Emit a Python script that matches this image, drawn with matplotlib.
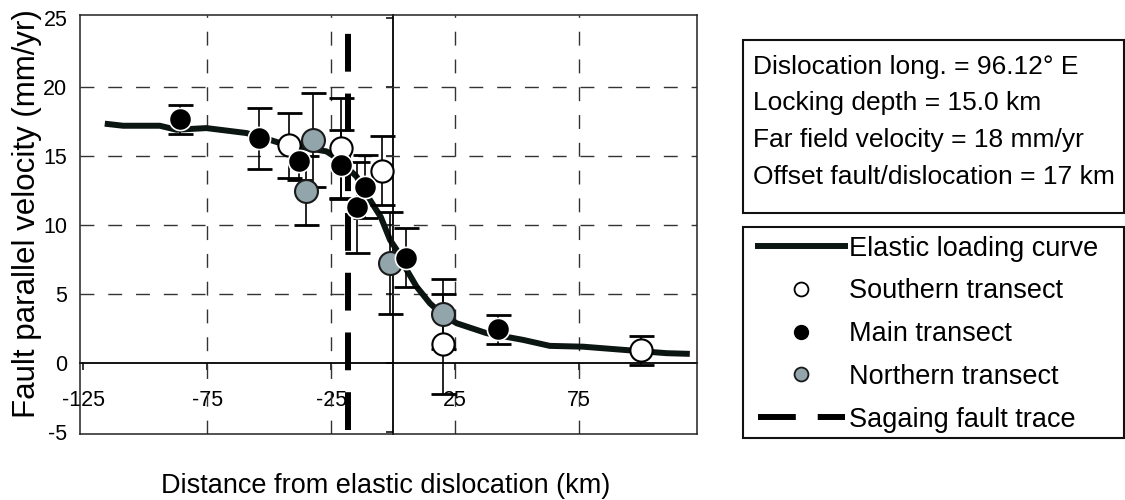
import matplotlib
matplotlib.use("Agg")
import matplotlib.pyplot as plt
from matplotlib.lines import Line2D
from matplotlib.patches import Rectangle

plt.rcParams['font.family'] = ['Liberation Sans', 'DejaVu Sans']
plt.rcParams['axes.unicode_minus'] = False

# elastic loading curve
curve_x = [-116.4, -109.0, -94.2, -87.5, -75.4, -59.2, -49.8, -45.8, -26.9, -22.8,
           -14.8, -9.4, -5.0, -1.3, 1.4, 5.0, 9.4, 14.8, 20.0, 25.6, 37.7, 52.5,
           63.2, 76.7, 90.1, 110.3, 119.7]
curve_y = [17.37, 17.22, 17.22, 16.93, 17.05, 16.69, 16.2, 15.97, 15.36, 14.88,
           13.54, 11.85, 10.6, 8.95, 8.22, 6.9, 5.56, 4.35, 3.5, 2.9, 2.18, 1.69,
           1.26, 1.2, 1.01, 0.73, 0.68]

# GPS transects
main_x = [-86.1, -54.2, -37.9, -21.1, -14.5, -11.4, 5.1, 42.4]
main_y = [17.7, 16.3, 14.65, 14.4, 11.3, 12.8, 7.65, 2.45]
main_err = [1.05, 2.2, 1.35, 2.5, 3.3, 2.3, 2.15, 1.05]

south_x = [-42.0, -21.1, -4.7, 20.2, 100.2]
south_y = [15.8, 15.6, 13.95, 1.4, 0.95]
south_err = [2.35, 3.65, 2.5, 3.6, 1.05]

north_x = [-35.2, -32.3, -1.3, 19.9]
north_y = [12.5, 16.2, 7.3, 3.55]
north_err = [2.5, 3.4, 3.7, 2.55]

fault_x = -18.4

x_ticks = [-125, -75, -25, 25, 75, 125]
y_ticks = [-5, 0, 5, 10, 15, 20, 25]
x_grid = [-75, -25, 25, 75]
y_grid = [5, 10, 15, 20]

info_lines = ["Dislocation long. = 96.12\u00b0 E",
              "Locking depth = 15.0 km",
              "Far field velocity = 18 mm/yr",
              "Offset fault/dislocation = 17 km"]
legend_labels = ["Elastic loading curve", "Southern transect", "Main transect",
                 "Northern transect", "Sagaing fault trace"]

W, H = 1125, 500
fig = plt.figure(figsize=(W / 100, H / 100), dpi=100)
ax = fig.add_axes([80 / W, 1 - 434 / H, 617 / W, 419 / H])
xmin, xmax = -126.4, 122.6
ymin, ymax = -5.13, 25.25
ax.set_xlim(xmin, xmax)
ax.set_ylim(ymin, ymax)

for s in ax.spines.values():
    s.set_linewidth(1.1)
    s.set_color('#222222')

# grid
ax.xaxis.remove_overlapping_locs = False
ax.yaxis.remove_overlapping_locs = False
ax.set_xticks([])
ax.set_yticks(y_ticks)
ax.set_xticks(x_grid, minor=True)
ax.set_yticks(y_grid, minor=True)
ax.tick_params(which='both', length=0)
ax.tick_params(axis='y', labelsize=15.5, pad=9)
ax.grid(which='minor', color='#333333', linewidth=1.0, linestyle=(0, (10, 10)))

# axes crossing at zero
xs = ax.secondary_xaxis((0 - ymin) / (ymax - ymin))
xs.set_xticks(x_ticks)
xs.tick_params(length=5, width=1.1, labelsize=15.5, pad=14, direction='out')
xs.spines['bottom'].set_linewidth(1.3)

ys = ax.secondary_yaxis((0 - xmin) / (xmax - xmin))
ys.set_alignment('left')
ys.set_yticks(y_ticks)
ys.set_yticklabels([])
ys.tick_params(length=5, width=1.1)
ys.spines['left'].set_linewidth(1.3)

# fault trace
ax.axvline(fault_x, ymin=0, ymax=(434 - 32) / 419, color='black', lw=4.3,
           linestyle=(9.33, (6.33, 3.67)), zorder=2)

# elastic curve
ax.plot(curve_x, curve_y, color='#0b1512', lw=4.3, zorder=3,
        solid_capstyle='butt', solid_joinstyle='round')

err_kw = dict(fmt='none', ecolor='black', elinewidth=1.2, capsize=9, capthick=2.0, zorder=4)
ax.errorbar(south_x, south_y, yerr=south_err, **err_kw)
ax.errorbar(main_x, main_y, yerr=main_err, **err_kw)
ax.errorbar(north_x, north_y, yerr=north_err, **err_kw)

ax.plot(south_x, south_y, 'o', ms=16, mfc='white', mec='black', mew=1.5, zorder=5)
ax.plot(north_x, north_y, 'o', ms=16.5, mfc='#91a5ab', mec='#1a1a1a', mew=1.5, zorder=5)
ax.plot(main_x, main_y, 'o', ms=16, mfc='black', mec='white', mew=1.2, zorder=6)

# axis labels
fig.text(27 / W, 1 - 418 / H, "Fault parallel velocity (mm/yr)", rotation=90,
         ha='center', va='bottom', fontsize=22.5)
fig.text(386 / W, 1 - 493 / H, "Distance from elastic dislocation (km)",
         ha='center', va='baseline', fontsize=19.5)

# info box
fig.patches.append(Rectangle((743 / W, 1 - 213 / H), 381 / W, 173 / H,
                             transform=fig.transFigure, fill=False,
                             edgecolor='#111111', linewidth=1.5))
for i, line in enumerate(info_lines):
    fig.text(753 / W, 1 - (66.7 + i * 36.7) / H, line, ha='left', va='center',
             fontsize=19)

# legend box
fig.patches.append(Rectangle((743 / W, 1 - 438 / H), 381 / W, 211 / H,
                             transform=fig.transFigure, fill=False,
                             edgecolor='#111111', linewidth=1.5))
handles = [
    Line2D([], [], color='#0b1512', lw=4.3),
    Line2D([], [], marker='o', ls='none', ms=10, mfc='white', mec='black', mew=1.3),
    Line2D([], [], marker='o', ls='none', ms=10, mfc='black', mec='black', mew=1.0),
    Line2D([], [], marker='o', ls='none', ms=10, mfc='#91a5ab', mec='#1a1a1a', mew=1.3),
    Line2D([], [], color='black', lw=4.3, linestyle=(0, (6.33, 3.67))),
]
fig.legend(handles, legend_labels, loc='upper left',
           bbox_to_anchor=(758 / W, 1 - 235.5 / H), frameon=False, fontsize=19.5,
           handlelength=3.2, handletextpad=0.15, labelspacing=0.62,
           borderpad=0, borderaxespad=0)

fig.savefig("out.png", dpi=100)
